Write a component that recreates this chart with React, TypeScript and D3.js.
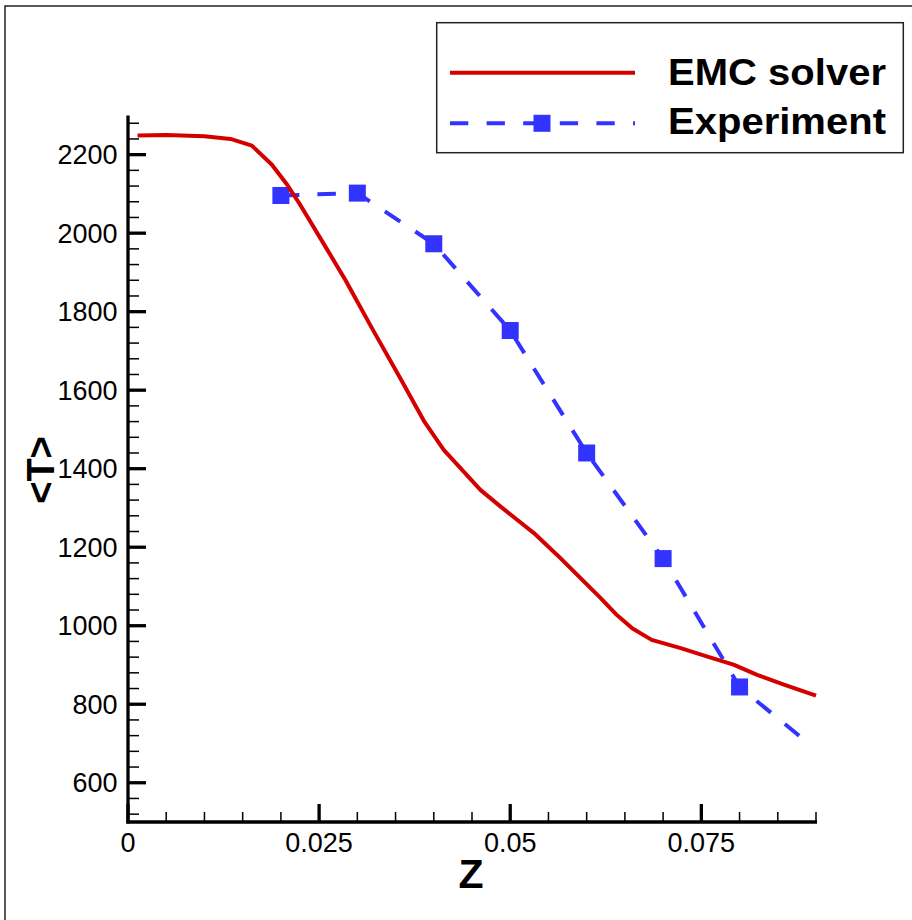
import React from "react";
import * as d3 from "d3";

const emcZ = [0.00125, 0.005, 0.01, 0.0134, 0.0162, 0.0188, 0.0208, 0.0226, 0.026, 0.0284, 0.032, 0.0356, 0.0387, 0.0413, 0.0461, 0.0487, 0.0531, 0.0561, 0.0618, 0.0638, 0.066, 0.0685, 0.0723, 0.0757, 0.0792, 0.0823, 0.0858, 0.09];
const emcT = [2249, 2250, 2247, 2240, 2223, 2175, 2124, 2070, 1960, 1882, 1755, 1631, 1522, 1448, 1346, 1304, 1236, 1181, 1071, 1030, 993, 964, 943, 922, 901, 875, 850, 822];

const expZ = [0.02, 0.03, 0.04, 0.05, 0.06, 0.07, 0.08, 0.1];
const expT = [2096, 2102, 1973, 1752, 1440, 1171, 844, 525];

const xTicks = [0, 0.025, 0.05, 0.075];
const xTickLabels = ["0", "0.025", "0.05", "0.075"];
const yTicks = [600, 800, 1000, 1200, 1400, 1600, 1800, 2000, 2200];
const yTickLabels = ["600", "800", "1000", "1200", "1400", "1600", "1800", "2000", "2200"];

const seriesNames = ["EMC solver", "Experiment"];

const RED = "#d40000";
const BLUE = "#3333ff";

export default function App() {
  const left = 128, right = 816, top = 115.4, bottom = 822;
  const x = d3.scaleLinear().domain([0, 0.09]).range([left, right]);
  const y = d3.scaleLinear().domain([500, 2300]).range([bottom, top]);

  const emc = emcZ.map((z, i) => [z, emcT[i]] as [number, number]);
  const exp = expZ.map((z, i) => [z, expT[i]] as [number, number]);
  const line = d3.line<[number, number]>().x(d => x(d[0])).y(d => y(d[1]));

  const xMinor = d3.range(0, 0.0901, 0.005).filter(v => !xTicks.some(t => Math.abs(t - v) < 1e-9));
  const yMinor = d3.range(520, 2300, 40).filter(v => !yTicks.some(t => Math.abs(t - v) < 1e-6));

  const font = "'Liberation Sans', Arial, Helvetica, sans-serif";
  const ms = 17;

  return (
    <svg width={912} height={920} style={{ position: "absolute", left: 0, top: 0, background: "#fff" }} fontFamily={font}>
      <rect x={0} y={0} width={912} height={920} fill="#fff" />
      <rect x={5} y={6} width={1000} height={1000} fill="none" stroke="#222" strokeWidth={1.5} />
      <defs>
        <clipPath id="plotClip">
          <rect x={left} y={top} width={right - left - 10} height={bottom - top} />
        </clipPath>
      </defs>

      {/* minor ticks */}
      {xMinor.map((v, i) => (
        <line key={"xm" + i} x1={x(v)} x2={x(v)} y1={bottom} y2={bottom - 10} stroke="#000" strokeWidth={1.5} />
      ))}
      {yMinor.map((v, i) => (
        <line key={"ym" + i} x1={left} x2={left + 11} y1={y(v)} y2={y(v)} stroke="#000" strokeWidth={1.5} />
      ))}
      {/* major ticks */}
      {xTicks.map((v, i) => (
        <line key={"xM" + i} x1={x(v)} x2={x(v)} y1={bottom} y2={bottom - 18} stroke="#000" strokeWidth={3.3} />
      ))}
      {yTicks.map((v, i) => (
        <line key={"yM" + i} x1={left} x2={left + 18} y1={y(v)} y2={y(v)} stroke="#000" strokeWidth={3.3} />
      ))}
      {/* axes */}
      <line x1={left} x2={left} y1={top} y2={bottom + 1.6} stroke="#000" strokeWidth={3.3} />
      <line x1={left - 1.6} x2={right + 1} y1={bottom} y2={bottom} stroke="#000" strokeWidth={3.3} />

      {/* tick labels */}
      {xTicks.map((v, i) => (
        <text key={"xl" + i} x={x(v)} y={852} textAnchor="middle" fontSize={27} fill="#000">{xTickLabels[i]}</text>
      ))}
      {yTicks.map((v, i) => (
        <text key={"yl" + i} x={117.5} y={y(v) + 9.7} textAnchor="end" fontSize={27} fill="#000">{yTickLabels[i]}</text>
      ))}

      {/* axis titles */}
      <text x={471} y={888} textAnchor="middle" fontSize={41} fontWeight="bold" fill="#000">Z</text>
      <text transform="translate(54,470) rotate(-90)" textAnchor="middle" fontSize={38} fontWeight="bold" fill="#000">&lt;T&gt;</text>

      {/* data */}
      <g clipPath="url(#plotClip)">
        <path d={line(exp) || ""} fill="none" stroke={BLUE} strokeWidth={4} strokeDasharray="18.5 18" />
        {exp.map((d, i) => (
          <rect key={"m" + i} x={x(d[0]) - ms / 2} y={y(d[1]) - ms / 2} width={ms} height={ms} fill={BLUE} />
        ))}
      </g>
      <path d={line(emc) || ""} fill="none" stroke={RED} strokeWidth={4} strokeLinejoin="round" />

      {/* legend */}
      <rect x={436.7} y={22.7} width={466.6} height={130} fill="#fff" stroke="#222" strokeWidth={1.5} />
      <line x1={450} x2={635} y1={72.7} y2={72.7} stroke={RED} strokeWidth={4} />
      <line x1={450} x2={635} y1={123.3} y2={123.3} stroke={BLUE} strokeWidth={4} strokeDasharray="18.3 18.3" />
      <rect x={542 - ms / 2} y={123.3 - ms / 2} width={ms} height={ms} fill={BLUE} />
      <text x={668} y={85} fontSize={36} fontWeight="bold" fill="#000" textLength={218} lengthAdjust="spacingAndGlyphs">{seriesNames[0]}</text>
      <text x={668} y={134} fontSize={36} fontWeight="bold" fill="#000" textLength={218} lengthAdjust="spacingAndGlyphs">{seriesNames[1]}</text>
    </svg>
  );
}
